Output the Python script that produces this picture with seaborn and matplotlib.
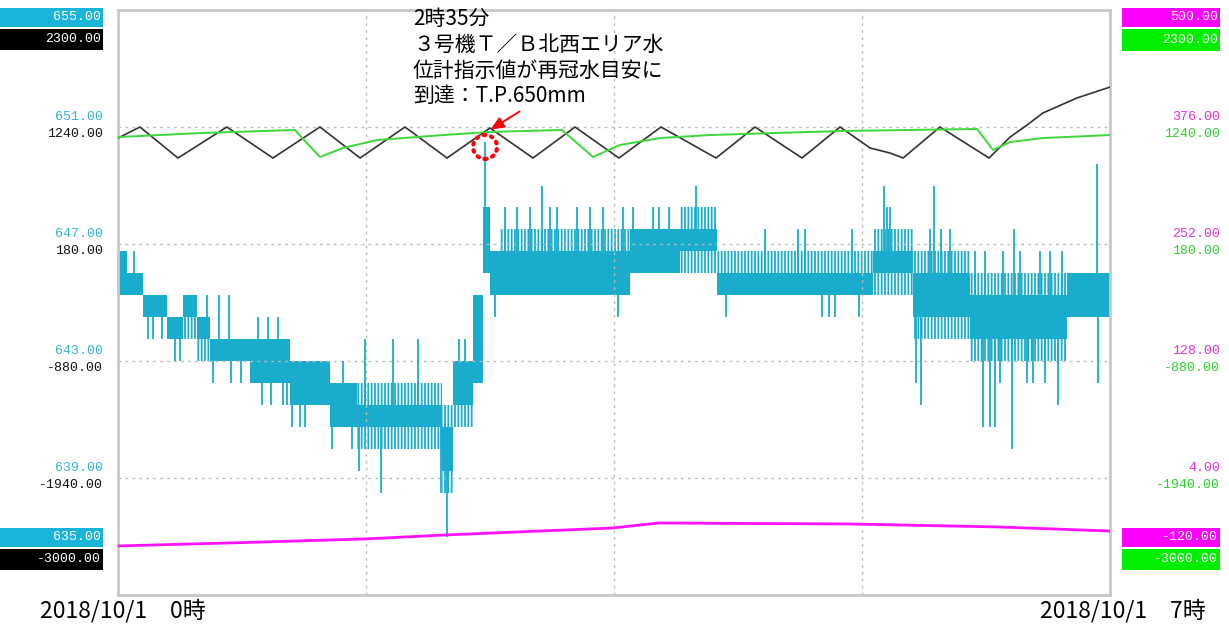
import numpy as np
import matplotlib
matplotlib.use("Agg")
import matplotlib.pyplot as plt
from matplotlib.patches import Ellipse, Rectangle
import seaborn as sns

plt.rcParams['font.family'] = ['Noto Sans CJK JP', 'DejaVu Sans']
plt.rcParams['hatch.linewidth'] = 1.3

# time in minutes after 2018/10/1 0:00
black_t = [0, 9.3, 25.4, 46.1, 65.6, 85.5, 102.5, 121.5, 139.3, 157.5, 175.7, 193.5,
           212.1, 229.9, 253.2, 269.7, 289.6, 305.7, 318.4, 326.9, 332.4, 348.0, 368.8,
           377.7, 384.9, 391.6, 406.0, 420]
black_v = [1140, 1240, 959, 1240, 959, 1240, 959, 1240, 959, 1231, 959, 1240,
           959, 1240, 959, 1240, 959, 1240, 1050, 1004, 959, 1240, 959,
           1149, 1258, 1367, 1503, 1602]

green_t = [0, 34.7, 74.9, 85.5, 95.3, 109.7, 137.6, 157.5, 188.0, 201.1, 212.5, 229.5,
           250.6, 279.0, 307.0, 363.7, 370.5, 377.7, 391.6, 420]
green_v = [1149, 1185, 1213, 968, 1050, 1122, 1167, 1195, 1213, 968, 1077, 1140,
           1167, 1186, 1204, 1222, 1032, 1104, 1140, 1167]

magenta_t = [0, 52, 104.6, 138.5, 209.3, 228.8, 309.2, 372.7, 420]
magenta_v = [-68.0, -64.5, -60.6, -56.4, -49.0, -43.7, -44.7, -47.9, -52.2]

# water level (mm): segment start, outer band, dense core band
cyan_t = [0, 3.8, 10.6, 20.7, 27.5, 33.4, 39.0, 55.9, 72.8, 89.8, 101.2, 137.2, 141.8,
          150.3, 154.5, 157.5, 161.7, 216.8, 237.9, 253.6, 319.7, 336.6, 360.7, 401.8]
cyan_lo = [645.25, 645.25, 644.5, 643.75, 643.75, 643.0, 643.0, 642.25, 641.5, 640.75,
           640.0, 638.5, 640.75, 642.25, 646.0, 645.25, 645.25, 646.0, 646.0, 645.25,
           645.25, 643.75, 643.0, 644.5]
cyan_core_lo = [645.25, 645.25, 644.5, 643.75, 644.5, 643.75, 643.0, 642.25, 641.5, 640.75,
                640.75, 639.25, 641.5, 642.25, 646.0, 645.25, 645.25, 646.0, 646.75, 645.25,
                646.0, 644.5, 643.75, 644.5]
cyan_core_hi = [646.75, 646.0, 645.25, 644.5, 645.25, 644.5, 643.75, 643.75, 643.0, 642.25,
                641.5, 640.75, 643.0, 645.25, 648.25, 646.75, 646.75, 647.5, 647.5, 646.0,
                646.75, 646.0, 645.25, 646.0]
cyan_hi = [646.75, 646.0, 645.25, 644.5, 645.25, 644.5, 643.75, 643.75, 643.0, 642.25,
           642.25, 641.5, 643.0, 645.25, 648.25, 646.75, 647.5, 647.5, 648.25, 646.75,
           647.5, 646.75, 646.0, 646.0]
spike_t = [6.8, 12.7, 14.8, 18.6, 24.1, 26.3, 37.7, 42.8, 47.0, 40.2, 47.8, 52.1, 61.0,
           64.8, 69.9, 71.6, 59.3, 63.5, 67.7, 73.7, 77.1, 79.2, 90.6, 99.1, 95.3, 102.0,
           104.6, 111.4, 116.4, 127.0, 136.8, 139.3, 144.4, 146.9, 155.4, 159.6, 163.9,
           168.9, 174.4, 179.5, 182.9, 185.9, 194.3, 199.8, 205.3, 211.7, 213.8, 218.0,
           226.5, 229.1, 233.3, 244.7, 257.4, 273.9, 287.9, 290.9, 310.8, 298.1, 301.0,
           303.6, 313.7, 324.3, 325.6, 326.9, 337.9, 340.0, 343.8, 345.5, 348.5, 352.3,
           366.2, 369.2, 371.3, 378.5, 379.4, 384.9, 387.4, 392.5, 398.0, 414.5, 414.9,
           362.8, 367.1, 374.7, 381.9, 390.4, 394.6, 399.7, 373.4]
spike_v = [646.75, 643.75, 643.75, 643.75, 643.0, 643.0, 645.25, 645.25, 645.25, 642.25,
           642.25, 642.25, 641.5, 641.5, 641.5, 641.5, 644.5, 644.5, 644.5, 640.75, 640.75,
           640.75, 640.0, 640.0, 643.0, 639.25, 643.75, 638.5, 643.75, 643.75, 638.5, 637.0,
           643.75, 643.75, 650.5, 644.5, 648.25, 648.25, 648.25, 649.0, 648.25, 648.25,
           648.25, 648.25, 648.25, 644.5, 648.25, 648.25, 648.25, 648.25, 648.25, 649.0,
           644.5, 647.5, 647.5, 647.5, 647.5, 644.5, 644.5, 644.5, 644.5, 649.0, 648.25,
           648.25, 642.25, 641.5, 647.5, 649.0, 647.5, 647.5, 640.75, 640.75, 640.75, 640.0,
           647.5, 642.25, 642.25, 642.25, 641.5, 649.75, 642.25,
           646.75, 646.75, 646.75, 646.75, 646.75, 646.75, 646.75, 642.25]

cyan_ticks = [655, 651, 647, 643, 639, 635]
black_ticks = [2300, 1240, 180, -880, -1940, -3000]
magenta_ticks = [500, 376, 252, 128, 4, -120]
green_ticks = [2300, 1240, 180, -880, -1940, -3000]

note = "2時35分\n３号機Ｔ／Ｂ北西エリア水\n位計指示値が再冠水目安に\n到達：T.P.650mm"
event_t, event_v = 155.4, 650.32
start_label = "2018/10/1　0時"
end_label = "2018/10/1　7時"

C_CYAN = '#1aaccd'
C_BLACK = '#333333'
C_GREEN = '#3ad83a'
C_MAG = '#ff10ff'

W, H = 1229, 628
fig = plt.figure(figsize=(W / 100, H / 100), dpi=100)
ax = fig.add_axes([118 / W, (H - 595) / H, 992 / W, 585 / H])
ax_k = ax.twinx()
ax_g = ax.twinx()
ax_m = ax.twinx()

ax.set_xlim(0, 420)
ax.set_ylim(cyan_ticks[-1], cyan_ticks[0])
ax_k.set_ylim(black_ticks[-1], black_ticks[0])
ax_g.set_ylim(green_ticks[-1], green_ticks[0])
ax_m.set_ylim(magenta_ticks[-1], magenta_ticks[0])

ax.set_xticks(np.linspace(0, 420, 5))
ax.set_yticks(cyan_ticks)
ax.tick_params(length=0, labelbottom=False, labelleft=False)
ax.grid(True, ls=(0, (2, 3)), color='#bdbdbd', lw=1)
for s in ax.spines.values():
    s.set_color('#c8c8c8')
    s.set_linewidth(2)
for a in (ax_k, ax_g, ax_m):
    a.set_axis_off()

# cyan water level: outer band as dense vertical strokes, core solid, spikes
edges = list(cyan_t) + [420]
ax.fill_between(edges, cyan_lo + cyan_lo[-1:], cyan_hi + cyan_hi[-1:], step='post',
                facecolor='none', edgecolor=C_CYAN, hatch='|||||', lw=0)
ax.fill_between(edges, cyan_core_lo + cyan_core_lo[-1:], cyan_core_hi + cyan_core_hi[-1:],
                step='post', color=C_CYAN, lw=0)
idx = np.searchsorted(cyan_t, spike_t, side='right') - 1
base = [cyan_core_hi[i] if v > cyan_core_hi[i] else cyan_core_lo[i] for i, v in zip(idx, spike_v)]
ax.vlines(spike_t, base, spike_v, color=C_CYAN, lw=1.3)

sns.lineplot(x=black_t, y=black_v, ax=ax_k, color=C_BLACK, lw=1.2, sort=False, estimator=None)
sns.lineplot(x=green_t, y=green_v, ax=ax_g, color=C_GREEN, lw=1.4, sort=False, estimator=None)
sns.lineplot(x=magenta_t, y=magenta_v, ax=ax_m, color=C_MAG, lw=2, sort=False, estimator=None)
for a in (ax_k, ax_g, ax_m):
    a.set_xlim(0, 420)

# annotation
ax_m.annotate('', xy=(156.7, 650.86), xycoords=ax.transData,
              xytext=(171.0, 651.58), textcoords=ax.transData,
              arrowprops=dict(arrowstyle='-|>,head_length=0.8,head_width=0.35', color='red', lw=1.4))
circ = Ellipse((event_t, event_v), 10.2, 0.82, transform=ax.transData, fill=False,
               edgecolor='red', lw=3, ls=(0, (0.4, 1.4)), capstyle='round')
ax_m.add_patch(circ)
fig.text(413 / W, 1 - 8 / H, note, ha='left', va='top', fontsize=15, linespacing=1.22, color='black')

# axis value labels
num_font = dict(family='Liberation Mono', fontsize=9.5)
lx, rx = -15 / 992, 1102 / 992
for a, ticks, col, dy, x in ((ax, cyan_ticks, '#35b3d2', 10, lx), (ax_k, black_ticks, '#111111', -7, lx),
                             (ax_m, magenta_ticks, '#e030e0', 10, rx), (ax_g, green_ticks, '#2fd02f', -7, rx)):
    for v in ticks[1:-1]:
        a.annotate(f"{v:.2f}", xy=(x, v), xycoords=a.get_yaxis_transform(), xytext=(0, dy),
                   textcoords='offset pixels', ha='right', va='center', color=col, **num_font)


def box(x0, y0, x1, y1, color, label):
    fig.add_artist(Rectangle((x0 / W, 1 - y1 / H), (x1 - x0) / W, (y1 - y0) / H,
                             transform=fig.transFigure, color=color, lw=0))
    fig.text((x1 - 2) / W, 1 - (y0 + y1) / 2 / H, label, ha='right', va='center',
             color='white', **num_font)


box(0, 8, 103, 27, '#1ab4d8', f"{cyan_ticks[0]:.2f}")
box(0, 29, 103, 50, '#000000', f"{black_ticks[0]:.2f}")
box(0, 528, 103, 547, '#1ab4d8', f"{cyan_ticks[-1]:.2f}")
box(0, 549, 103, 570, '#000000', f"{black_ticks[-1]:.2f}")
box(1122, 8, 1220, 27, '#ff00ff', f"{magenta_ticks[0]:.2f}")
box(1122, 29, 1220, 51, '#00ee00', f"{green_ticks[0]:.2f}")
box(1122, 528, 1220, 547, '#ff00ff', f"{magenta_ticks[-1]:.2f}")
box(1122, 549, 1220, 570, '#00ee00', f"{green_ticks[-1]:.2f}")

fig.text(40 / W, 1 - 611 / H, start_label, ha='left', va='center', fontsize=16.5)
fig.text(1206 / W, 1 - 611 / H, end_label, ha='right', va='center', fontsize=16.5)

fig.savefig('out.png', dpi=100)
